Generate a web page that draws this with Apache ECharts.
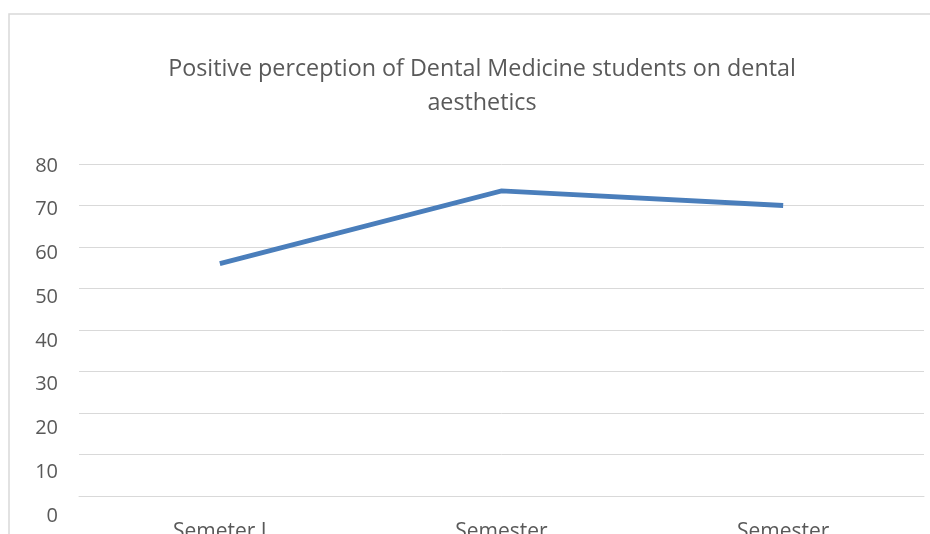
<!DOCTYPE html>
<html>
<head>
<meta charset="utf-8">
<script src="https://cdn.jsdelivr.net/npm/echarts@6/dist/echarts.min.js"></script>
<style>
html,body{margin:0;padding:0;background:#fff;}
#c{width:930px;height:534px;}
</style>
</head>
<body>
<div id="c"></div>
<script>
const titleText = "Positive perception of Dental Medicine students on dental\naesthetics";
const categories = ["Semeter I", "Semester\nII", "Semester\nIII"];
const positivePerception = [56, 73.5, 70];
const yMin = 0, yMax = 80, yInterval = 10;

const chart = echarts.init(document.getElementById('c'), null, {renderer: 'canvas'});
const font = "'Open Sans', 'Liberation Sans', sans-serif";
chart.setOption({
  animation: false,
  backgroundColor: '#fff',
  title: {
    text: titleText,
    left: 477, top: 47, textAlign: 'center',
    textStyle: {fontFamily: font, fontSize: 23.3, fontWeight: 'normal', color: '#595959', lineHeight: 34}
  },
  graphic: [{
    type: 'rect', shape: {x: 9, y: 14, width: 1000, height: 600},
    style: {fill: 'none', stroke: '#d9d9d9', lineWidth: 1.5}, z: -1
  }],
  grid: [
    {left: 79, right: 6, top: 164, bottom: 38, containLabel: false, outerBoundsMode: 'none'},
    {left: 79, right: 6, top: 166, bottom: 18, containLabel: false, outerBoundsMode: 'none'}
  ],
  xAxis: [
    {
      type: 'category', gridIndex: 0, data: categories, boundaryGap: true,
      axisLine: {lineStyle: {color: '#d9d9d9', width: 1}},
      axisTick: {show: false},
      axisLabel: {color: '#595959', fontFamily: font, fontSize: 21, margin: 22, lineHeight: 28}
    },
    {type: 'category', gridIndex: 1, data: categories, show: false}
  ],
  yAxis: [
    {
      type: 'value', gridIndex: 0, min: yMin, max: yMax, interval: yInterval,
      axisLine: {show: false}, axisTick: {show: false},
      axisLabel: {show: false},
      splitLine: {lineStyle: {color: '#d9d9d9', width: 1}}
    },
    {
      type: 'value', gridIndex: 1, min: yMin, max: yMax, interval: yInterval,
      axisLine: {show: false}, axisTick: {show: false},
      splitLine: {show: false},
      axisLabel: {color: '#595959', fontFamily: font, fontSize: 20, margin: 21}
    }
  ],
  series: [{
    type: 'line', xAxisIndex: 0, yAxisIndex: 0,
    data: positivePerception,
    showSymbol: false, symbol: 'none',
    lineStyle: {color: '#4a7ebb', width: 4.8, cap: 'butt', join: 'miter'}
  }]
});
</script>
</body>
</html>
